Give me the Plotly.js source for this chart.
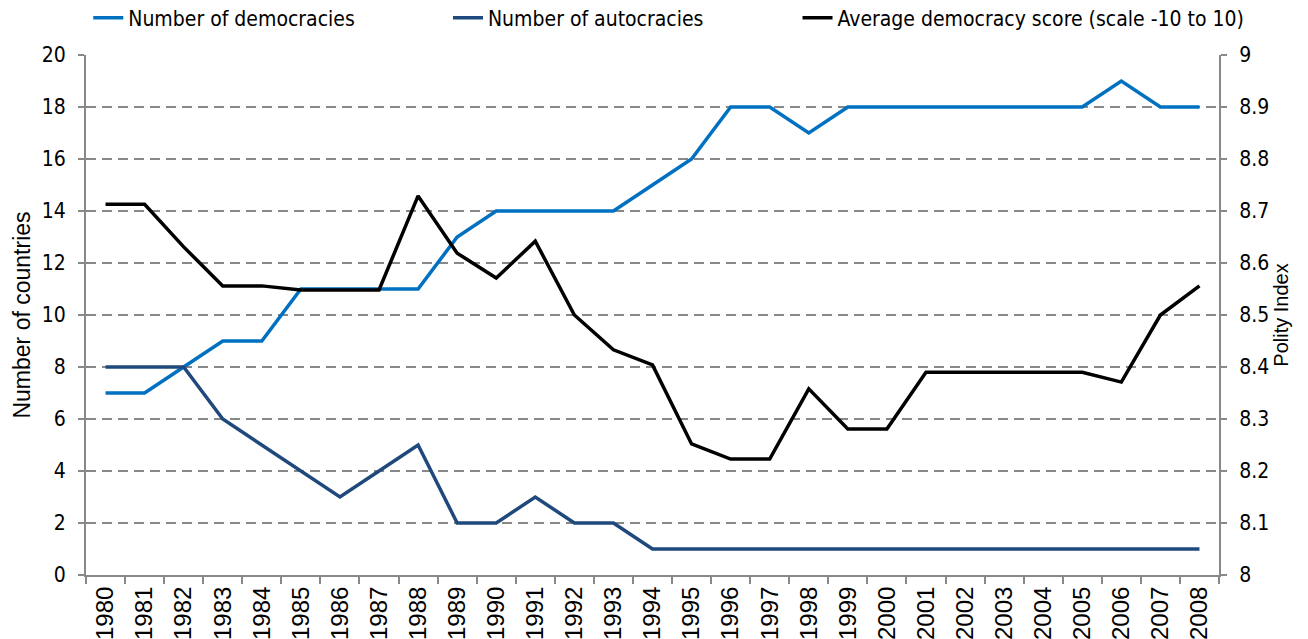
<!DOCTYPE html>
<html>
<head>
<meta charset="utf-8">
<script src="https://cdn.plot.ly/plotly-3.0.1.min.js"></script>
<style>
html,body{margin:0;padding:0;background:#fff;}
#chart{width:1308px;height:639px;}
</style>
</head>
<body>
<div id="chart"></div>
<script>
const years = ["1980","1981","1982","1983","1984","1985","1986","1987","1988","1989","1990","1991","1992","1993","1994","1995","1996","1997","1998","1999","2000","2001","2002","2003","2004","2005","2006","2007","2008"];
const democracies = [7,7,8,9,9,11,11,11,11,13,14,14,14,14,15,16,18,18,17,18,18,18,18,18,18,18,19,18,18];
const autocracies = [8,8,8,6,5,4,3,4,5,2,2,3,2,2,1,1,1,1,1,1,1,1,1,1,1,1,1,1,1];
const avgScore = [8.713,8.713,8.631,8.556,8.556,8.548,8.548,8.548,8.729,8.619,8.571,8.642,8.5,8.433,8.404,8.252,8.223,8.223,8.358,8.281,8.281,8.39,8.39,8.39,8.39,8.39,8.371,8.5,8.556];

const narrow = '"Liberation Sans Narrow", "DejaVu Sans Condensed", "Liberation Sans", sans-serif';
const regular = '"Liberation Sans", Arial, sans-serif';
const gridCol = '#888888';

const traces = [
  {x: years, y: democracies, type: 'scatter', mode: 'lines', name: 'Number of democracies',
   line: {color: '#0070C0', width: 3.5}, legend: 'legend'},
  {x: years, y: autocracies, type: 'scatter', mode: 'lines', name: 'Number of autocracies',
   line: {color: '#1F497D', width: 3.5}, legend: 'legend2'},
  {x: years, y: avgScore, type: 'scatter', mode: 'lines', name: 'Average democracy score (scale -10 to 10)',
   line: {color: '#000000', width: 3.5}, yaxis: 'y2', legend: 'legend3'}
];

const legendFont = {family: narrow, size: 21, color: '#000'};
const legY = (575 - 18) / 520;
const layout = {
  width: 1308, height: 639,
  margin: {l: 86, r: 89, t: 55, b: 64, autoexpand: false},
  paper_bgcolor: '#fff', plot_bgcolor: '#fff',
  showlegend: true,
  font: {family: narrow, size: 21, color: '#000'},
  legend: {x: 0.002, y: legY, xanchor: 'left', yanchor: 'middle', orientation: 'h', font: legendFont, bgcolor: 'rgba(0,0,0,0)'},
  legend2: {x: 0.3195, y: legY, xanchor: 'left', yanchor: 'middle', orientation: 'h', font: legendFont, bgcolor: 'rgba(0,0,0,0)'},
  legend3: {x: 0.628, y: legY, xanchor: 'left', yanchor: 'middle', orientation: 'h', font: legendFont, bgcolor: 'rgba(0,0,0,0)'},
  xaxis: {
    type: 'category', range: [-0.5, 28.5], tickangle: -90,
    ticks: 'outside', tickson: 'boundaries', ticklen: 7, tickwidth: 2, tickcolor: gridCol,
    showline: true, linecolor: gridCol, linewidth: 2, showgrid: false,
    tickfont: {family: regular, size: 24, color: '#000'}
  },
  yaxis: {
    range: [0, 20], dtick: 2, tick0: 0,
    ticks: 'outside', ticklen: 6, tickwidth: 2, tickcolor: gridCol,
    showline: true, linecolor: gridCol, linewidth: 2,
    showgrid: true, gridcolor: gridCol, gridwidth: 2, griddash: '10px,6px',
    zeroline: false, ticklabelstandoff: 8,
    tickfont: {family: narrow, size: 21, color: '#000'},
    title: {text: 'Number of countries', font: {family: regular, size: 23, color: '#000'}, standoff: 5}
  },
  yaxis2: {
    overlaying: 'y', side: 'right', range: [8, 9], dtick: 0.1, tick0: 8,
    ticks: 'outside', ticklen: 6, tickwidth: 2, tickcolor: gridCol,
    showline: true, linecolor: gridCol, linewidth: 2,
    showgrid: false, zeroline: false, ticklabelstandoff: 8,
    tickfont: {family: narrow, size: 21, color: '#000'},
    title: {text: 'Polity Index', font: {family: regular, size: 20, color: '#000'}, standoff: 6}
  }
};

Plotly.newPlot('chart', traces, layout, {displayModeBar: false, staticPlot: true});
</script>
</body>
</html>
